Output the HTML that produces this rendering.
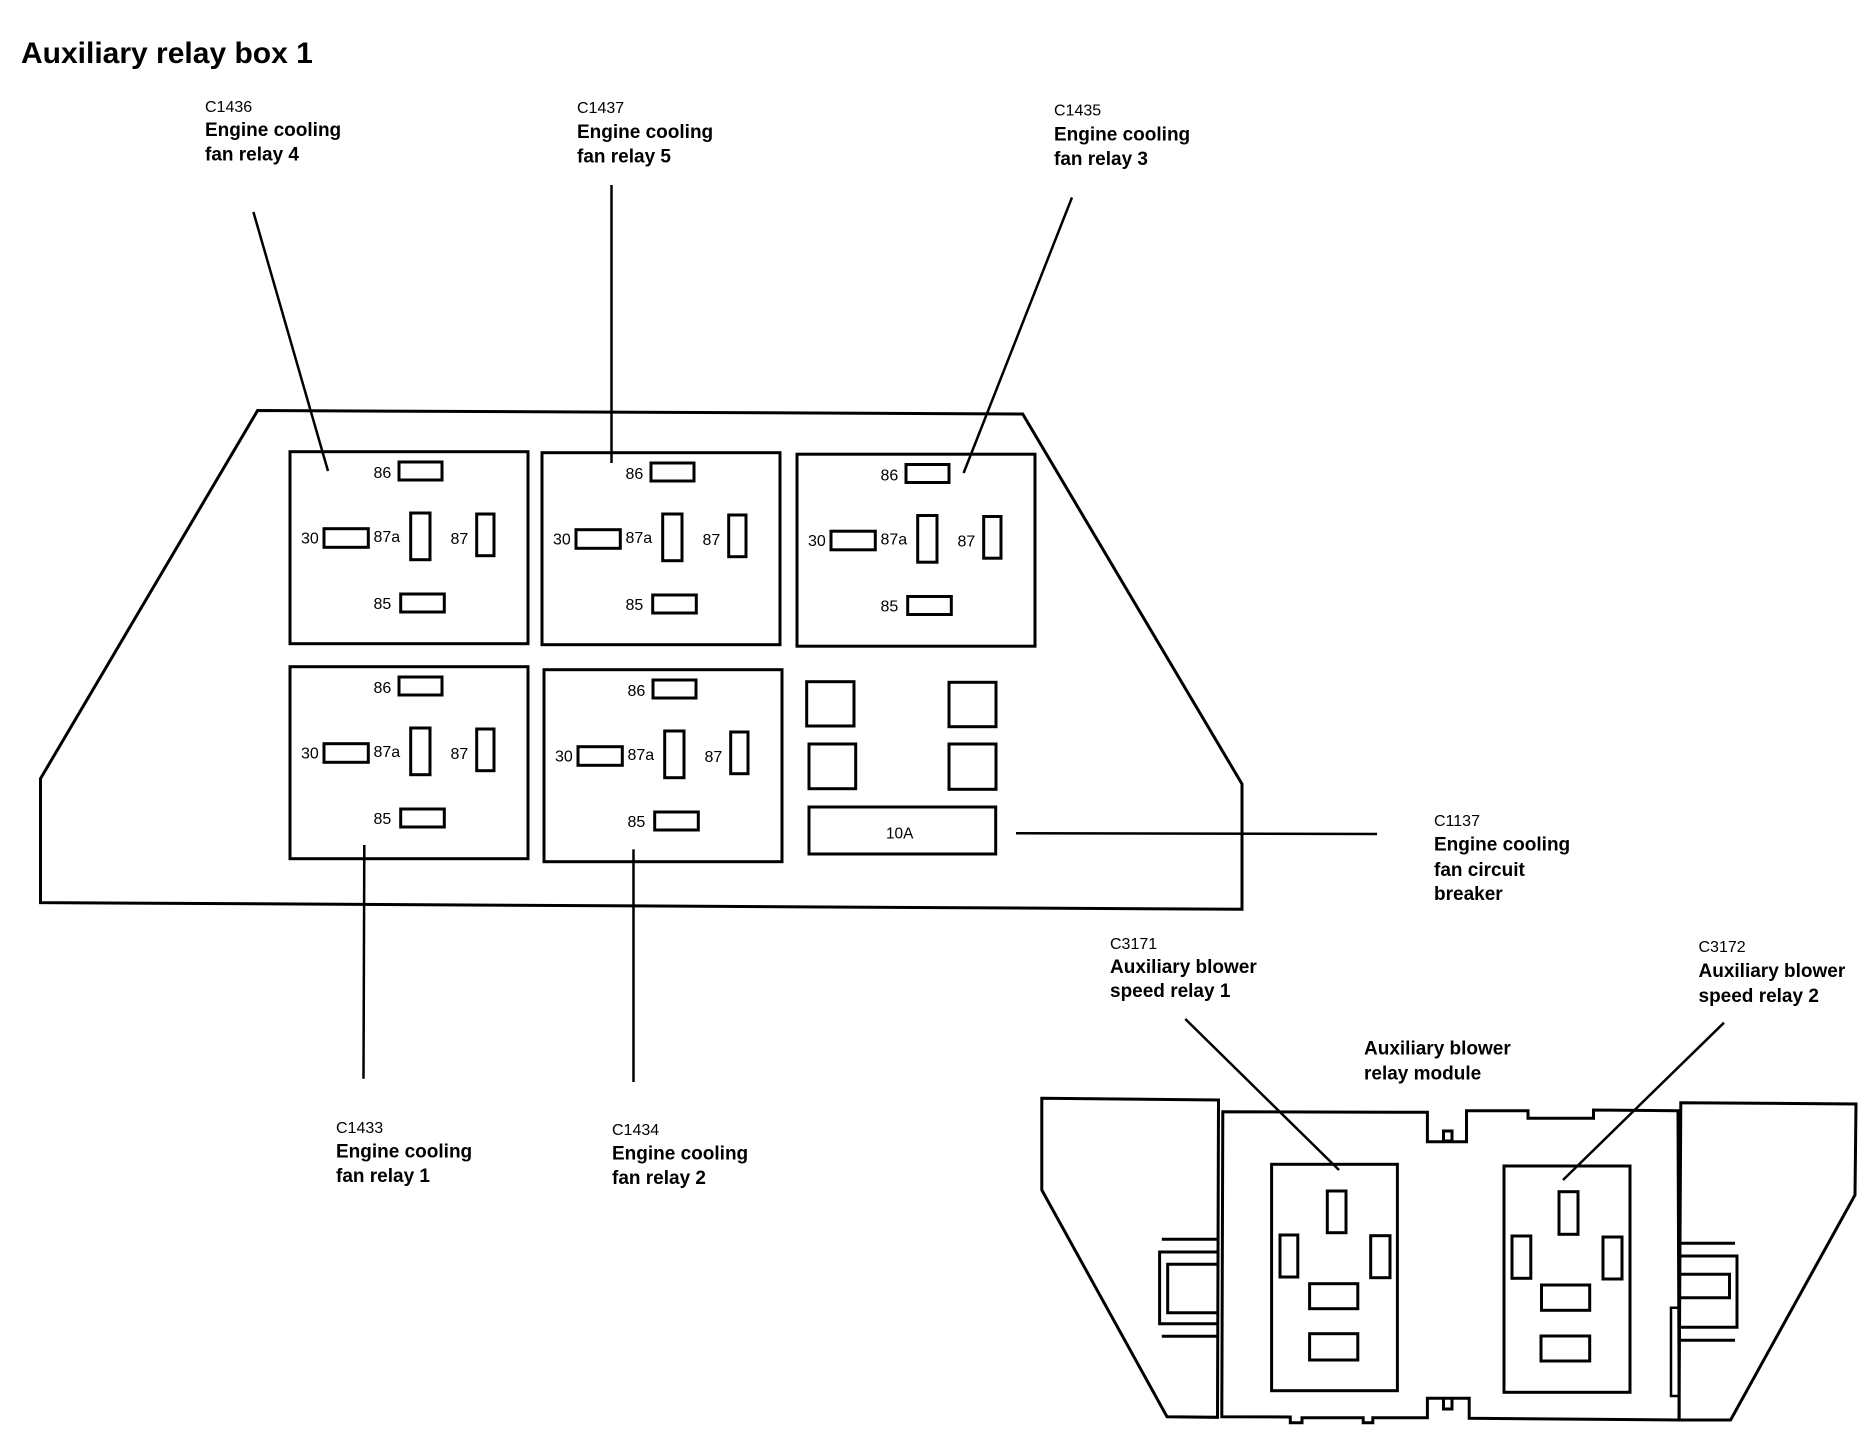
<!DOCTYPE html>
<html>
<head>
<meta charset="utf-8">
<title>Auxiliary relay box 1</title>
<style>
html,body{margin:0;padding:0;background:#fff;width:1870px;height:1440px;overflow:hidden}
svg{display:block}
text{font-family:"Liberation Sans",Arial,sans-serif;fill:#000}
.c{font-size:16px}
.b{font-size:19px;font-weight:bold}
.p{font-size:16px}
.s{fill:none;stroke:#000;stroke-width:3}
.l{fill:none;stroke:#000;stroke-width:2.5}
</style>
</head>
<body>
<svg width="1870" height="1440" viewBox="0 0 1870 1440" xmlns="http://www.w3.org/2000/svg">
<defs>
<g id="relay">
  <rect class="s" x="290" y="451.7" width="238" height="192"/>
  <rect class="s" x="399" y="462" width="43" height="18"/>
  <rect class="s" x="324" y="528.7" width="44.3" height="18.6"/>
  <rect class="s" x="410.7" y="513" width="19.3" height="46.7"/>
  <rect class="s" x="476.7" y="514" width="17.3" height="41.7"/>
  <rect class="s" x="400.7" y="594" width="43.6" height="18"/>
  <text class="p" x="373.5" y="478">86</text>
  <text class="p" x="301" y="543.3">30</text>
  <text class="p" x="373.5" y="542">87a</text>
  <text class="p" x="450.5" y="544">87</text>
  <text class="p" x="373.5" y="609">85</text>
</g>
</defs>
<rect width="1870" height="1440" fill="#fff"/>

<text x="21" y="63" style="font-size:30px;font-weight:bold">Auxiliary relay box 1</text>

<!-- outer box -->
<polygon class="s" points="257.6,410.5 1022.7,414 1242,784 1242,909.3 40.5,902.6 40.5,778.6"/>

<!-- relays -->
<use href="#relay"/>
<use href="#relay" transform="translate(252,1)"/>
<use href="#relay" transform="translate(507,2.5)"/>
<use href="#relay" transform="translate(0,215)"/>
<use href="#relay" transform="translate(254,218)"/>

<!-- fuses -->
<rect class="s" x="806.7" y="681.7" width="47.3" height="44.3"/>
<rect class="s" x="949" y="682.3" width="47" height="44.4"/>
<rect class="s" x="809" y="744" width="46.7" height="44.7"/>
<rect class="s" x="949" y="744" width="47" height="45.3"/>
<rect class="s" x="809" y="807" width="186.7" height="47"/>
<text x="886" y="838.7" style="font-size:15.4px">10A</text>

<!-- leader lines -->
<g class="l">
<line class="l" x1="253.4" y1="212" x2="328" y2="471"/>
<line class="l" x1="611.5" y1="185" x2="611.5" y2="463"/>
<line class="l" x1="1072" y1="197.4" x2="963.6" y2="473"/>
<line class="l" x1="364.3" y1="845" x2="363.5" y2="1078.7"/>
<line class="l" x1="633.5" y1="849.4" x2="633.5" y2="1082"/>
<line class="l" x1="1016" y1="833.2" x2="1377" y2="834"/>
<line class="l" x1="1185.3" y1="1019" x2="1339" y2="1170"/>
<line class="l" x1="1724" y1="1022.7" x2="1563" y2="1180"/>
</g>

<!-- labels top -->
<text class="c" x="205" y="112">C1436</text>
<text class="b" x="205" y="136">Engine cooling</text>
<text class="b" x="205" y="160.7">fan relay 4</text>

<text class="c" x="577" y="113">C1437</text>
<text class="b" x="577" y="138">Engine cooling</text>
<text class="b" x="577" y="162.5">fan relay 5</text>

<text class="c" x="1054" y="115.7">C1435</text>
<text class="b" x="1054" y="140.5">Engine cooling</text>
<text class="b" x="1054" y="165">fan relay 3</text>

<!-- labels bottom -->
<text class="c" x="336" y="1133">C1433</text>
<text class="b" x="336" y="1157.5">Engine cooling</text>
<text class="b" x="336" y="1182">fan relay 1</text>

<text class="c" x="612" y="1135">C1434</text>
<text class="b" x="612" y="1159.5">Engine cooling</text>
<text class="b" x="612" y="1184">fan relay 2</text>

<text class="c" x="1434" y="826">C1137</text>
<text class="b" x="1434" y="850.5">Engine cooling</text>
<text class="b" x="1434" y="876">fan circuit</text>
<text class="b" x="1434" y="900">breaker</text>

<text class="c" x="1110" y="949">C3171</text>
<text class="b" x="1110" y="973">Auxiliary blower</text>
<text class="b" x="1110" y="997">speed relay 1</text>

<text class="c" x="1698.5" y="952">C3172</text>
<text class="b" x="1698.5" y="977">Auxiliary blower</text>
<text class="b" x="1698.5" y="1002">speed relay 2</text>

<text class="b" x="1364" y="1054.7">Auxiliary blower</text>
<text class="b" x="1364" y="1079.5">relay module</text>

<!-- blower module -->
<polygon class="s" points="1041.8,1098.3 1218.5,1100 1217.5,1417.3 1167,1416.7 1041.8,1190"/>
<polygon class="s" points="1680.8,1102.7 1856,1104 1855,1195 1730.6,1420 1679,1420"/>
<polygon class="s" points="1222.8,1111.7 1427.4,1112.3 1427.4,1141.7 1466.5,1141.7 1466.5,1110.7 1528,1110.7 1528,1118.3 1593.5,1118.3 1593.5,1110 1678,1110.7 1679.2,1420 1469.2,1418.3 1469.2,1398.3 1427.4,1398.3 1427.4,1417.7 1372.8,1417.7 1372.8,1422.7 1363.2,1422.7 1363.2,1417.7 1302,1417.7 1302,1422.7 1290.3,1422.7 1290.3,1417 1221.8,1416.7"/>
<rect class="s" x="1443.5" y="1131" width="8.5" height="10"/>
<polyline class="s" points="1443.5,1398 1443.5,1409 1452,1409 1452,1398"/>

<rect class="s" x="1271.6" y="1164.3" width="125.8" height="226.4"/>
<rect class="s" x="1504" y="1166" width="126" height="226.3"/>

<rect class="s" x="1327.3" y="1191" width="18.7" height="41.7"/>
<rect class="s" x="1280" y="1235" width="17.8" height="42"/>
<rect class="s" x="1370.7" y="1235.7" width="19.3" height="42"/>
<rect class="s" x="1309.6" y="1283.7" width="48.2" height="25"/>
<rect class="s" x="1309.6" y="1333.7" width="48.2" height="26.3"/>

<rect class="s" x="1559" y="1191.7" width="19" height="42.6"/>
<rect class="s" x="1512" y="1236" width="18.8" height="42.3"/>
<rect class="s" x="1603" y="1237" width="19" height="42"/>
<rect class="s" x="1541.5" y="1285" width="48.2" height="25.3"/>
<rect class="s" x="1541" y="1336" width="48.7" height="25"/>

<!-- side brackets -->
<line class="s" x1="1161.8" y1="1239.3" x2="1218" y2="1239.3"/>
<polyline class="s" points="1217.5,1252 1159.6,1252 1159.6,1323.7 1217.5,1323.7"/>
<polyline class="s" points="1217.5,1264.3 1167.7,1264.3 1167.7,1312.7 1217.5,1312.7"/>
<line class="s" x1="1161.8" y1="1336.3" x2="1217.5" y2="1336.3"/>

<line class="s" x1="1680.8" y1="1243.3" x2="1735" y2="1243.3"/>
<polyline class="s" points="1680.8,1256 1737,1256 1737,1327.3 1680.8,1327.3"/>
<polyline class="s" points="1680.8,1274.3 1729.5,1274.3 1729.5,1297.7 1680.8,1297.7"/>
<line class="s" x1="1680.8" y1="1340.3" x2="1735" y2="1340.3"/>
<polyline class="l" points="1679,1307.7 1671,1307.7 1671,1396 1679,1396"/>
</svg>
</body>
</html>
